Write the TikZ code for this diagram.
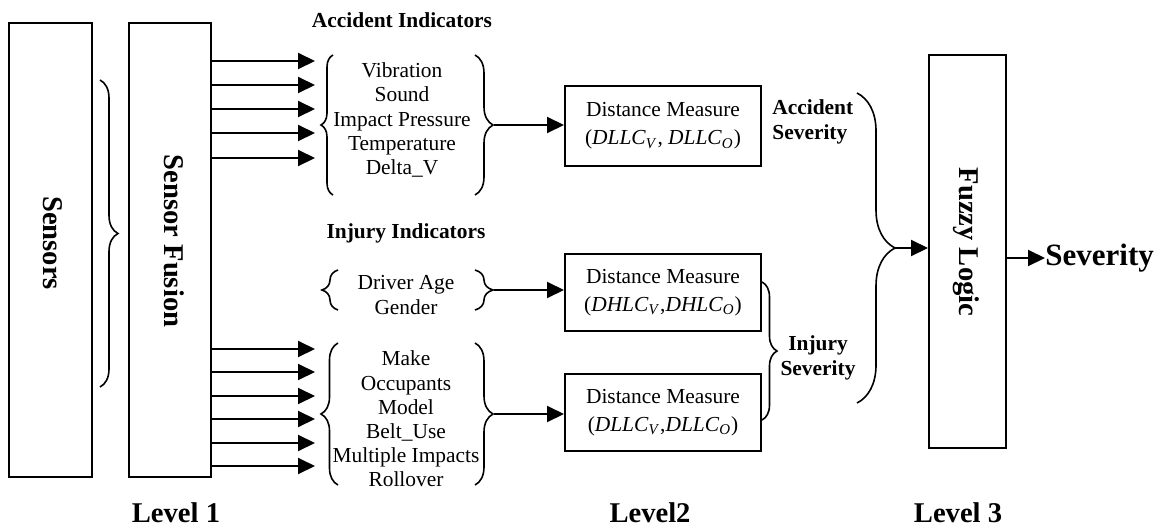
\documentclass[tikz,border=0pt]{standalone}
\usepackage{fontspec}
\setmainfont{Liberation Serif}
\usetikzlibrary{arrows.meta,decorations.pathreplacing}

\newcommand\bodyfont{\fontsize{10.7}{12.1}\selectfont}
\newcommand\boxfont{\fontsize{10.7}{14}\selectfont}
\newcommand\headfont{\fontsize{14.3}{16}\selectfont\bfseries}
\newcommand\iv[2]{\textit{#1}\textsubscript{\textit{#2}}}

\tikzset{
  box/.style={draw, line width=1pt, inner sep=0pt, align=center},
  arr/.style={line width=1pt, -{Triangle[length=8.5pt,width=8pt]}},
  brc/.style={decorate, decoration={brace, amplitude=#1}, line width=0.8pt},
  txt/.style={font=\bodyfont, align=center, inner sep=0pt},
  btxt/.style={font=\bodyfont\bfseries, align=center, inner sep=0pt},
  htxt/.style={font=\headfont, inner sep=0pt},
}

\begin{document}
\begin{tikzpicture}[x=0.5pt, y=-0.5pt]
\useasboundingbox (0,0) rectangle (1161,530);

% Level 1: sensors and fusion
\node[box, minimum width=41.5pt, minimum height=227pt] (sensors) at (50.5,250) {};
\node[htxt, rotate=-90] (sensorsLbl) at (53,243) {Sensors};
\node[box, minimum width=41pt, minimum height=227pt] (fusion) at (170,250) {};
\node[htxt, rotate=-90] (fusionLbl) at (174,241) {Sensor Fusion};
\draw[brc=9pt] (100,80) -- (100,387);

% fused outputs towards the indicator groups
\foreach \y [count=\i] in {61,85,109,133,158}
  \draw[arr] (fusion.east |- 0,\y) -- (315,\y) coordinate (accIn\i);
\foreach \y [count=\i] in {349,372,396,419,443,466}
  \draw[arr] (fusion.east |- 0,\y) -- (315,\y) coordinate (injIn\i);

% accident indicators
\node[btxt] (accTitle) at (402,20) {Accident Indicators};
\node[txt] (accList) at (402,120) {Vibration\\Sound\\Impact Pressure\\Temperature\\Delta\_V};
\draw[brc=6pt] (333,195) -- (333,55);
\draw[brc=9pt] (475,55) -- (475,195);
\coordinate (accTip) at (494,125);

% injury indicators
\node[btxt] (injTitle) at (406,233) {Injury Indicators};
\node[txt] (drvList) at (406,295) {Driver Age\\Gender};
\draw[brc=8pt] (338,310) -- (338,270);
\draw[brc=9pt] (475,270) -- (475,310);
\coordinate (drvTip) at (494,290);

\node[txt] (vehList) at (406,419) {Make\\Occupants\\Model\\Belt\_Use\\Multiple Impacts\\Rollover};
\draw[brc=8.5pt] (338,485) -- (338,343);
\draw[brc=9pt] (475,343) -- (475,485);
\coordinate (vehTip) at (494,414);

% Level 2: distance measures
\node[box, font=\boxfont, minimum width=98pt, minimum height=40pt] (dm1) at (663,126)
  {Distance Measure\\(\iv{DLLC}{V}, \iv{DLLC}{O})};
\node[box, font=\boxfont, minimum width=98pt, minimum height=38.5pt] (dm2) at (663,292.5)
  {Distance Measure\\(\iv{DHLC}{V},\iv{DHLC}{O})};
\node[box, font=\boxfont, minimum width=98pt, minimum height=38.5pt] (dm3) at (663,412.5)
  {Distance Measure\\(\iv{DLLC}{V},\iv{DLLC}{O})};

\draw[arr] (accTip) -- (dm1.west |- accTip);
\draw[arr] (drvTip) -- (dm2.west |- drvTip);
\draw[arr] (vehTip) -- (dm3.west |- vehTip);

\node[btxt, align=left, anchor=west, font=\fontsize{10.7}{12.5}\selectfont\bfseries] (accSev) at (772,122) {Accident\\Severity};
\draw[brc=7.5pt] (762,282) -- (762,420);
\node[btxt, font=\fontsize{10.7}{12.5}\selectfont\bfseries] (injSev) at (818,358) {Injury\\Severity};

% Level 3: fuzzy logic
\draw[brc=19pt] (857,93) -- (857,403);
\coordinate (sevTip) at (895,248);
\node[box, minimum width=38.5pt, minimum height=196.5pt] (fuzzy) at (967.5,251.5) {};
\node[htxt, rotate=-90] (fuzzyLbl) at (966,242) {Fuzzy Logic};
\draw[arr] (sevTip) -- (fuzzy.west |- sevTip);

\node[anchor=west, inner sep=0pt, font=\fontsize{15.5}{17}\selectfont\bfseries] (sev) at (1045,258) {Severity};
\draw[arr] (fuzzy.east |- sev.west) -- (sev.west);

% level captions
\node[htxt] (lv1) at (176,513) {Level 1};
\node[htxt] (lv2) at (650,513) {Level2};
\node[htxt] (lv3) at (958,513) {Level 3};
\end{tikzpicture}
\end{document}
